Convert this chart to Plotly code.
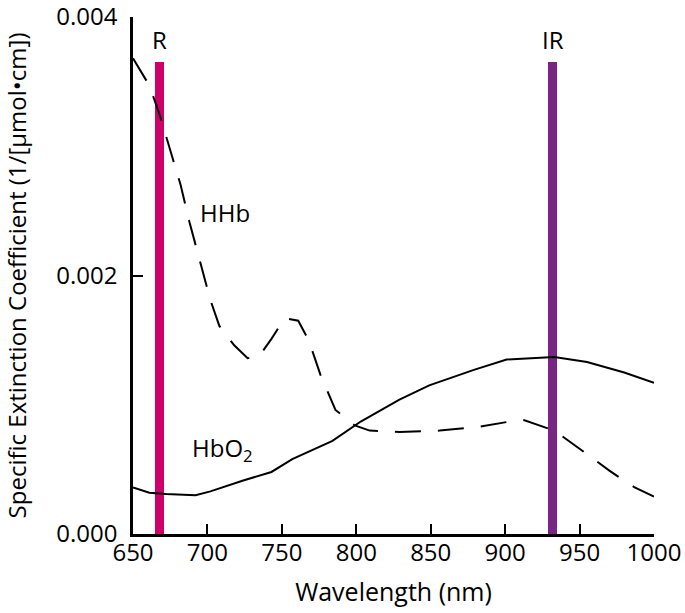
import plotly.graph_objects as go

# HbO2 (solid) spectrum
hbo2_wl = [650, 661, 672, 692, 702, 723, 743, 757, 784, 803, 829, 849, 879, 901, 933, 955, 980, 1000]
hbo2_val = [0.00036, 0.00032, 0.00031, 0.00030, 0.00033, 0.00041, 0.00048, 0.00058, 0.00072, 0.00087, 0.00104, 0.00115, 0.00127, 0.00135, 0.00137, 0.00133, 0.00125, 0.00117]

# HHb (dashed) spectrum
hhb_wl = [650, 661, 668, 675, 682, 688, 695, 702, 708, 718, 727, 735, 743, 752, 761, 768, 776, 786, 799, 809, 829, 856, 883, 903, 913, 933, 950, 970, 987, 1000]
hhb_val = [0.00368, 0.00347, 0.00324, 0.00297, 0.00270, 0.00241, 0.00210, 0.00181, 0.00161, 0.00146, 0.00136, 0.00138, 0.00151, 0.00167, 0.00165, 0.00150, 0.00123, 0.00096, 0.00084, 0.00080, 0.00079, 0.00080, 0.00083, 0.00087, 0.00088, 0.00080, 0.00066, 0.00049, 0.00036, 0.00029]

# LED wavelengths
led_wl = [668, 932]
led_labels = ["R", "IR"]
led_height = [0.00365, 0.00365]
led_colors = ["#CE0069", "#7A2483"]

x_ticks = [650, 700, 750, 800, 850, 900, 950, 1000]
y_ticks = [0.0, 0.002, 0.004]
y_ticklabels = ["0.000", "0.002", "0.004"]

FONT = "Open Sans"

fig = go.Figure()
fig.add_trace(go.Bar(x=led_wl, y=led_height, width=6.2, marker=dict(color=led_colors, line=dict(width=0)),
                     showlegend=False, hoverinfo="skip"))
fig.add_trace(go.Scatter(x=hbo2_wl, y=hbo2_val, mode="lines", line=dict(color="black", width=2),
                         showlegend=False))
fig.add_trace(go.Scatter(x=hhb_wl, y=hhb_val, mode="lines", line=dict(color="black", width=2, dash="26px,17px"),
                         showlegend=False))

for wl, lab, h in zip(led_wl, led_labels, led_height):
    fig.add_annotation(x=wl, y=h, text=lab, showarrow=False, yanchor="bottom", yshift=4,
                       font=dict(family=FONT, size=24, color="black"))

fig.add_annotation(x=712, y=0.00249, text="HHb", showarrow=False,
                   font=dict(family=FONT, size=24, color="black"))
fig.add_annotation(x=710, y=0.00066, text="HbO<sub>2</sub>", showarrow=False,
                   font=dict(family=FONT, size=24, color="black"))

fig.update_layout(
    width=685, height=613,
    margin=dict(l=133, r=31, t=17, b=79, autoexpand=False),
    paper_bgcolor="white", plot_bgcolor="white",
    font=dict(family=FONT, size=24, color="black"),
    bargap=0,
)
fig.update_xaxes(range=[650, 1000], tickvals=x_ticks, ticks="inside", ticklen=10, tickwidth=2,
                 tickcolor="black", showline=True, linecolor="black", linewidth=2.5, showgrid=False,
                 zeroline=False, tickfont=dict(family=FONT, size=24), automargin=False,
                 ticklabeloverflow="allow", ticklabelstandoff=-5,
                 title=dict(text="Wavelength (nm)", font=dict(family=FONT, size=25), standoff=17))
fig.update_yaxes(range=[0, 0.004], tickvals=y_ticks, ticktext=y_ticklabels, ticks="inside", ticklen=10,
                 tickwidth=2, tickcolor="black", showline=True, linecolor="black", linewidth=2.5,
                 showgrid=False, zeroline=False, tickfont=dict(family=FONT, size=24), automargin=False,
                 ticklabeloverflow="allow", ticklabelstandoff=8,
                 title=dict(text="Specific Extinction Coefficient (1/[µmol•cm])", font=dict(family=FONT, size=24),
                            standoff=25))

fig.write_html("out.html", config={"displayModeBar": False},
               post_script="document.body.style.margin='0';document.body.style.overflow='hidden';")
